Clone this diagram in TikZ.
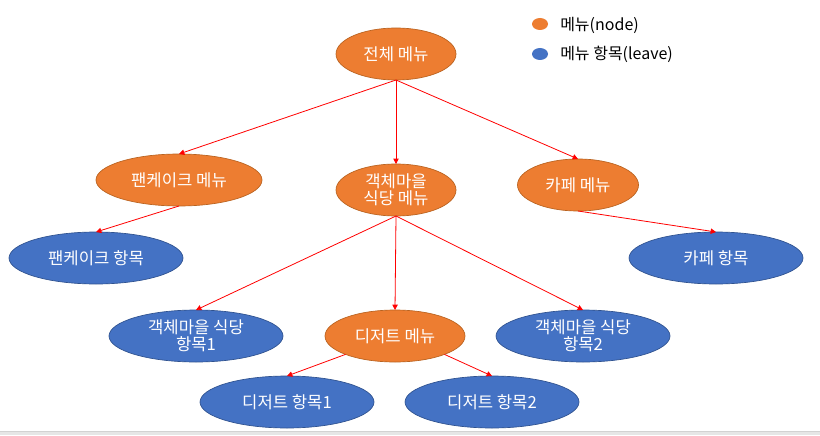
\documentclass[tikz,border=0pt]{standalone}
\usepackage{fontspec}
\setmainfont{Noto Sans CJK KR}
\usetikzlibrary{shapes.geometric,arrows.meta}
\definecolor{orfill}{HTML}{ED7D31}
\definecolor{ordraw}{HTML}{B9621F}
\definecolor{blfill}{HTML}{4472C4}
\definecolor{bldraw}{HTML}{2F528F}
\definecolor{edgered}{HTML}{FF0000}
\definecolor{stripgray}{HTML}{E6E6E6}
\definecolor{stripline}{HTML}{D2D2D2}
\tikzset{
  base/.style={ellipse, inner sep=0pt, outer sep=0pt, minimum height=39pt,
    text=white, font=\fontsize{12.5}{14.5}\selectfont, align=center, line width=0.5pt},
  menunode/.style={base, fill=orfill, draw=ordraw},
  leafnode/.style={base, fill=blfill, draw=bldraw, minimum width=130.5pt},
  link/.style={draw=edgered, line width=0.6pt, -{Triangle[length=4pt,width=4pt]}},
  legdot/.style={ellipse, inner sep=0pt, minimum width=12pt, minimum height=9pt},
  legtext/.style={anchor=west, inner sep=0pt, font=\fontsize{12}{14}\selectfont, text=black}
}
\begin{document}
\begin{tikzpicture}[x=0.75pt,y=-0.75pt]
\useasboundingbox (0,0) rectangle (820,435);
\fill[white] (0,0) rectangle (820,435);
\fill[stripgray] (0,431) rectangle (820,435);
\draw[stripline, line width=0.75pt] (0,431) -- (820,431);

% legend
\node[legdot, fill=orfill] (ld1) at (540,24) {};
\node[legtext] (lt1) at (560,25) {메뉴(node)};
\node[legdot, fill=blfill] (ld2) at (540,54) {};
\node[legtext] (lt2) at (560,54) {메뉴 항목(leave)};

% nodes
\node[menunode, minimum width=90pt] (root) at (396,54) {전체 메뉴};
\node[menunode, minimum width=124.5pt] (pm) at (179,180) {팬케이크 메뉴};
\node[menunode, minimum width=90pt] (om) at (396,190) {객체마을\\[-2pt]식당 메뉴};
\node[menunode, minimum width=90.75pt] (cm) at (578,185) {카페 메뉴};
\node[leafnode] (pl) at (96,258) {팬케이크 항목};
\node[leafnode] (cl) at (716,258) {카페 항목};
\node[leafnode] (ol1) at (196,336) {객체마을 식당\\[-2pt]항목1};
\node[menunode, minimum width=105pt] (dm) at (395,336) {디저트 메뉴};
\node[leafnode] (ol2) at (583,336) {객체마을 식당\\[-2pt]항목2};
\node[leafnode] (dl1) at (287,402) {디저트 항목1};
\node[leafnode] (dl2) at (492,402) {디저트 항목2};

% connectors
\draw[link] (root.south) -- (pm.north);
\draw[link] (root.south) -- (om.north);
\draw[link] (root.south) -- (cm.north);
\draw[link] (pm.south) -- (pl.north);
\draw[link] (cm.south) -- (cl.north);
\draw[link] (om.south) -- (ol1.north);
\draw[link] (om.south) -- (dm.north);
\draw[link] (om.south) -- (ol2.north);
\draw[link] (dm.south west) -- (dl1.north);
\draw[link] (dm.south east) -- (dl2.north);
\end{tikzpicture}
\end{document}
